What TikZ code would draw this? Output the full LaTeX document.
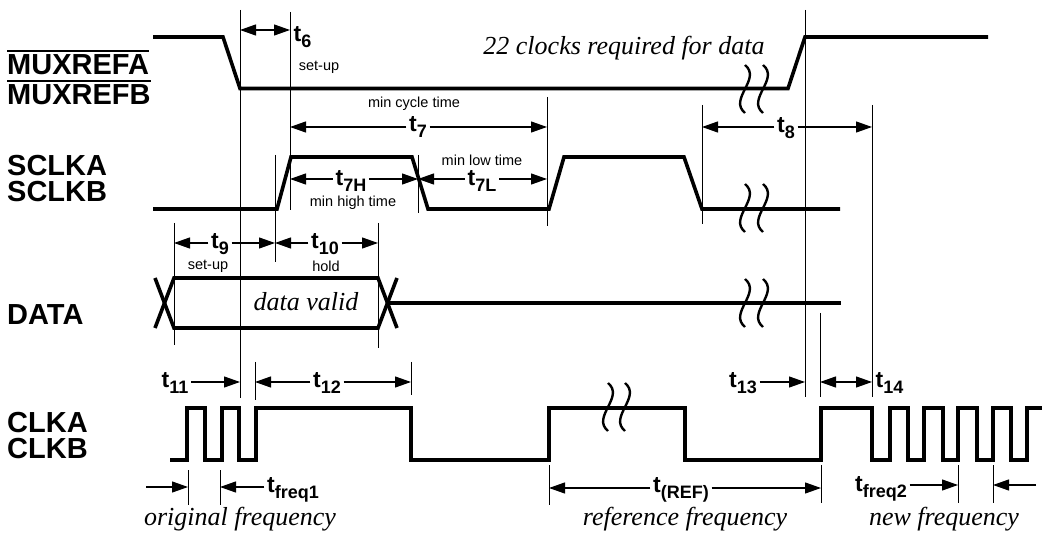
\documentclass[tikz,border=0pt]{standalone}
\usepackage{fontspec}
\newfontfamily\hv{Liberation Sans}
\newfontfamily\serif{Liberation Serif}
\usetikzlibrary{arrows.meta}
\tikzset{
  sig/.style={line width=3.6pt},
  guide/.style={line width=0.8pt},
  dimr/.style={line width=1.2pt, -{Triangle[length=16pt,width=11pt]}},
  dimlr/.style={line width=1.2pt, {Triangle[length=16pt,width=11pt]}-{Triangle[length=16pt,width=11pt]}},
  siglab/.style={font=\hv\bfseries\fontsize{29}{30}\selectfont, anchor=west, inner sep=0pt},
  siglabtwo/.style={font=\hv\bfseries\fontsize{29}{26}\selectfont, anchor=north west, align=left, inner sep=0pt},
  tlab/.style={font=\hv\bfseries\fontsize{23}{23}\selectfont, inner xsep=2.5pt, inner ysep=0pt, anchor=base},
  note/.style={font=\hv\fontsize{14.5}{15}\selectfont, inner sep=0pt},
  itl/.style={font=\serif\itshape\fontsize{26}{27}\selectfont, inner sep=0pt, anchor=base},
  brk/.style={line width=2.4pt},
}
\newcommand\tsub[1]{\raisebox{-6pt}{\fontsize{18}{18}\selectfont #1}}
\newcommand\brkmark[2]{\draw[brk] (#1,#2-24) .. controls (#1+17,#2-10) and (#1-17,#2+10) .. (#1,#2+24);}
\begin{document}
\begin{tikzpicture}[x=1pt,y=-1pt]
\useasboundingbox (0,0) rectangle (1045,537);

% ---------- signal names ----------
\node[siglab] (mA) at (7,64.5) {MUXREFA};
\node[siglab] (mB) at (7,94.5) {MUXREFB};
\draw[line width=2pt] ([yshift=3pt]mA.north west) -- ([yshift=3pt]mA.north east);
\draw[line width=2pt] ([yshift=3pt]mB.north west) -- ([yshift=3pt]mB.north east);
\node[siglabtwo] (sclk) at (7,155.5) {SCLKA\\SCLKB};
\node[siglab] (dat) at (7,314.5) {DATA};
\node[siglabtwo] (clk) at (7,412) {CLKA\\CLKB};

% ---------- guide lines ----------
\draw[guide] (240,10) -- (240,398);
\draw[guide] (290,12) -- (290,210);
\draw[guide] (275,155) -- (275,262);
\draw[guide] (418,155) -- (418,213);
\draw[guide] (547,97) -- (547,226);
\draw[guide] (702,105) -- (702,224);
\draw[guide] (805,10) -- (805,397);
\draw[guide] (872,105) -- (872,397);
\draw[guide] (820,313) -- (820,397);
\draw[guide] (378,223) -- (378,348);
\draw[guide] (174,223) -- (174,345);
\draw[guide] (255,362) -- (255,400);
\draw[guide] (411,362) -- (411,395);
\draw[guide] (188,470) -- (188,505);
\draw[guide] (220,470) -- (220,505);
\draw[guide] (549,465) -- (549,505);
\draw[guide] (821,465) -- (821,503);
\draw[guide] (958,465) -- (958,503);
\draw[guide] (993,465) -- (993,503);

% ---------- waveforms ----------
\draw[sig] (153,37) -- (223,37) -- (240,88.5) -- (788,88.5) -- (805,37) -- (988,37);
\draw[sig] (153,209) -- (277,209) -- (291,157) -- (412,157) -- (428,209) -- (549,209)
  -- (564,157) -- (684,157) -- (702,209) -- (840,209);
\draw[sig] (155,278) -- (174,328) -- (378,328) -- (397,278);
\draw[sig] (155,328) -- (174,278) -- (378,278) -- (397,328);
\draw[sig] (387.5,303) -- (841,303);
\draw[sig] (170,460) -- (187,460) -- (187,408) -- (205,408) -- (205,460) -- (222,460)
  -- (222,408) -- (239,408) -- (239,460) -- (256,460) -- (256,408) -- (411,408)
  -- (411,460) -- (549,460) -- (549,408) -- (685,408) -- (685,460) -- (821,460)
  -- (821,408) -- (872,408) -- (872,460) -- (890,460) -- (890,408) -- (908,408)
  -- (908,460) -- (924,460) -- (924,408) -- (943,408) -- (943,460) -- (958,460)
  -- (958,408) -- (977,408) -- (977,460) -- (993,460) -- (993,408) -- (1011,408)
  -- (1011,460) -- (1027,460) -- (1027,408) -- (1042,408);

% break marks
\brkmark{745}{89}\brkmark{763}{89}
\brkmark{745}{208}\brkmark{763}{208}
\brkmark{745}{303}\brkmark{763}{303}
\brkmark{608}{407}\brkmark{625}{407}

% ---------- italic texts ----------
\node[itl] (clk22) at (624,55) {22 clocks required for data};
\node[itl] (dv) at (306,311) {data valid};
\node[itl] (orig) at (240,525) {original frequency};
\node[itl] (reff) at (685,525) {reference frequency};
\node[itl] (newf) at (944,525) {new frequency};

% ---------- small notes ----------
\node[note] (su6) at (319,67) {set-up};
\node[note] (mct) at (414,104) {min cycle time};
\node[note] (mht) at (353,203) {min high time};
\node[note] (mlt) at (482,160) {min low time};
\node[note] (su9) at (208,266) {set-up};
\node[note] (hld) at (326,266) {hold};

% ---------- timing labels and arrows ----------
% t6
\coordinate (a6l) at (240,30); \coordinate (a6r) at (290,30);
\draw[dimlr] (a6l) -- (a6r);
\node[tlab, anchor=base west] (t6) at (291,42) {t\tsub{6}};
% t7
\node[tlab] (t7) at (418,132) {t\tsub{7}};
\coordinate (a7l) at (290,127); \coordinate (a7r) at (547,127);
\draw[dimr] (t7.west |- a7l) -- (a7l);
\draw[dimr] (t7.east |- a7r) -- (a7r);
% t7H
\node[tlab] (t7h) at (351,186) {t\tsub{7H}};
\coordinate (a7hl) at (290,179); \coordinate (a7hr) at (418,179);
\draw[dimr] (t7h.west |- a7hl) -- (a7hl);
\draw[dimr] (t7h.east |- a7hr) -- (a7hr);
% t7L
\node[tlab] (t7l) at (482,186) {t\tsub{7L}};
\coordinate (a7ll) at (418,179); \coordinate (a7lr) at (547,179);
\draw[dimr] (t7l.west |- a7ll) -- (a7ll);
\draw[dimr] (t7l.east |- a7lr) -- (a7lr);
% t8
\node[tlab] (t8) at (786,133) {t\tsub{8}};
\coordinate (a8l) at (702,127); \coordinate (a8r) at (872,127);
\draw[dimr] (t8.west |- a8l) -- (a8l);
\draw[dimr] (t8.east |- a8r) -- (a8r);
% t9
\node[tlab] (t9) at (220,249) {t\tsub{9}};
\coordinate (a9l) at (174,243); \coordinate (a9r) at (275,243);
\draw[dimr] (t9.west |- a9l) -- (a9l);
\draw[dimr] (t9.east |- a9r) -- (a9r);
% t10
\node[tlab] (t10) at (325,249) {t\tsub{10}};
\coordinate (a10l) at (275,243); \coordinate (a10r) at (378,243);
\draw[dimr] (t10.west |- a10l) -- (a10l);
\draw[dimr] (t10.east |- a10r) -- (a10r);
% t11
\node[tlab] (t11) at (175,388) {t\tsub{11}};
\coordinate (a11) at (240,382);
\draw[dimr] (t11.east |- a11) -- (a11);
% t12
\node[tlab] (t12) at (327,388) {t\tsub{12}};
\coordinate (a12l) at (255,382); \coordinate (a12r) at (411,382);
\draw[dimr] (t12.west |- a12l) -- (a12l);
\draw[dimr] (t12.east |- a12r) -- (a12r);
% t13
\node[tlab] (t13) at (743,388) {t\tsub{13}};
\coordinate (a13) at (805,382);
\draw[dimr] (t13.east |- a13) -- (a13);
% t14
\coordinate (a14l) at (820,382); \coordinate (a14r) at (872,382);
\draw[dimlr] (a14l) -- (a14r);
\node[tlab, anchor=base west] (t14) at (873,388) {t\tsub{14}};
% tfreq1
\node[tlab] (tf1) at (293,492) {t\tsub{freq1}};
\coordinate (f1tail) at (146,487); \coordinate (f1a) at (188,487);
\coordinate (f1b) at (220,487);
\draw[dimr] (f1tail) -- (f1a);
\draw[dimr] (tf1.west |- f1b) -- (f1b);
% t(REF)
\node[tlab] (tref) at (681,492) {t\tsub{(REF)}};
\coordinate (rl) at (549,488); \coordinate (rr) at (821,488);
\draw[dimr] (tref.west |- rl) -- (rl);
\draw[dimr] (tref.east |- rr) -- (rr);
% tfreq2
\node[tlab] (tf2) at (881,491) {t\tsub{freq2}};
\coordinate (f2a) at (958,485); \coordinate (f2b) at (993,485);
\coordinate (f2tail) at (1036,485);
\draw[dimr] (tf2.east |- f2a) -- (f2a);
\draw[dimr] (f2tail) -- (f2b);
\end{tikzpicture}
\end{document}
